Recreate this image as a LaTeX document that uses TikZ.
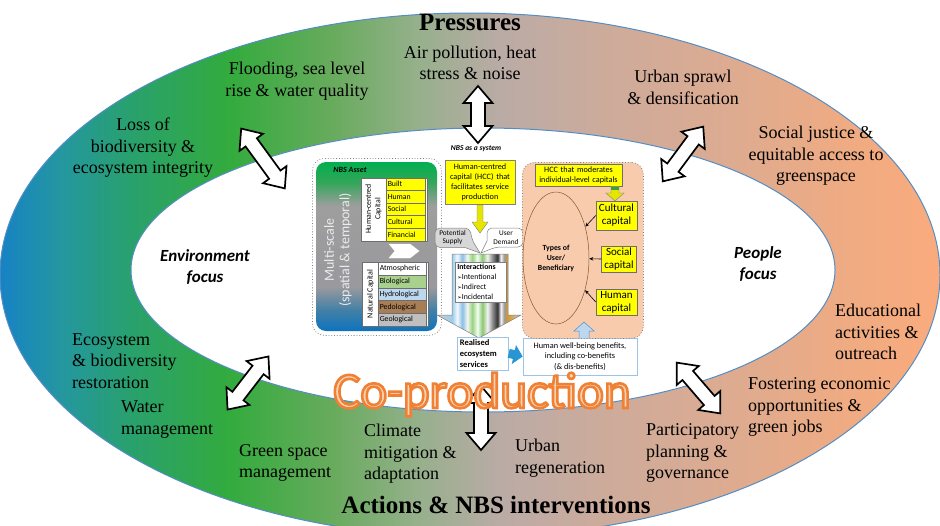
\documentclass[tikz,border=0pt]{standalone}
\usepackage{fontspec}
\setmainfont{Liberation Serif}
\newfontfamily\calibri{Carlito}
\newfontfamily\djv{DejaVu Sans}
\usetikzlibrary{calc,arrows.meta,shapes.geometric}

\definecolor{ringline}{RGB}{84,141,196}
\definecolor{hyellow}{RGB}{255,255,0}
\definecolor{boxgray}{RGB}{110,110,110}
\definecolor{salmon}{RGB}{248,203,173}
\definecolor{lblue}{RGB}{157,195,230}
\definecolor{paleblue}{RGB}{189,215,238}
\definecolor{arrblue}{RGB}{40,150,210}
\definecolor{biogreen}{RGB}{169,209,142}
\definecolor{pedobrown}{RGB}{168,126,86}
\definecolor{geogray}{RGB}{191,191,191}
\definecolor{colight}{RGB}{251,210,178}
\definecolor{calgray}{RGB}{215,215,215}

\pgfdeclarehorizontalshading{ringshade}{100bp}{
rgb(0bp)=(0.09,0.51,0.77);
rgb(25bp)=(0.09,0.51,0.77);
rgb(28.2bp)=(0.14,0.59,0.63);
rgb(31.9bp)=(0.16,0.63,0.43);
rgb(37.2bp)=(0.2,0.67,0.24);
rgb(42.5bp)=(0.40,0.67,0.36);
rgb(47.3bp)=(0.59,0.69,0.55);
rgb(51.6bp)=(0.73,0.67,0.65);
rgb(56.9bp)=(0.80,0.67,0.61);
rgb(63.3bp)=(0.86,0.67,0.57);
rgb(70.2bp)=(0.94,0.67,0.51);
rgb(75bp)=(0.98,0.67,0.49);
rgb(100bp)=(0.98,0.67,0.49)}

\pgfdeclarehorizontalshading{stripes}{100bp}{
rgb(0bp)=(0.8,0.8,0.8); rgb(25bp)=(0.8,0.8,0.8);
rgb(34bp)=(0.62,0.80,0.92); rgb(37bp)=(0.95,0.97,1);
rgb(40bp)=(0.55,0.75,0.90); rgb(43bp)=(0.95,0.97,0.95);
rgb(46bp)=(0.6,0.82,0.5); rgb(49bp)=(0.95,1,0.95);
rgb(52bp)=(0.55,0.78,0.45); rgb(55bp)=(0.95,0.95,0.95);
rgb(58bp)=(0.55,0.55,0.55); rgb(61bp)=(0.2,0.2,0.2);
rgb(63bp)=(0.95,0.95,0.95); rgb(65bp)=(0.6,0.6,0.6);
rgb(67bp)=(0.85,0.6,0.15); rgb(75bp)=(0.8,0.8,0.8);
rgb(100bp)=(0.8,0.8,0.8)}

\pgfdeclareverticalshading{asset}{100bp}{
rgb(0bp)=(0.05,0.45,0.75); rgb(25bp)=(0.05,0.45,0.75);
rgb(31bp)=(0.25,0.5,0.65); rgb(38bp)=(0.6,0.6,0.62);
rgb(62bp)=(0.62,0.62,0.62); rgb(69bp)=(0.2,0.65,0.35);
rgb(75bp)=(0.0,0.69,0.31); rgb(100bp)=(0.0,0.69,0.31)}

\newcommand\dblarr[4]{%
 \begin{scope}[shift={(#1,#2)},rotate=#3]
 \draw[dbl] ({-#4/2},0) -- ({-#4/2+17},14.5) -- ({-#4/2+17},7) -- ({#4/2-17},7)
   -- ({#4/2-17},14.5) -- ({#4/2},0) -- ({#4/2-17},-14.5) -- ({#4/2-17},-7)
   -- ({-#4/2+17},-7) -- ({-#4/2+17},-14.5) -- cycle;
 \end{scope}}

\tikzset{
 lbl/.style={font=\fontsize{18}{21.5}\selectfont, inner sep=0, align=center},
 lbll/.style={lbl, align=left, anchor=west},
 ttl/.style={font=\bfseries\fontsize{25}{28}\selectfont, inner sep=0},
 focus/.style={font=\calibri\bfseries\itshape\fontsize{17}{20.5}\selectfont, inner sep=0, align=center},
 tiny/.style={font=\calibri\fontsize{7.3}{8.5}\selectfont, inner sep=0, align=center},
 dbl/.style={draw=black, fill=white, line width=1.7pt, line join=miter},
 ybox/.style={draw=boxgray, fill=hyellow, line width=0.5pt, inner sep=1.5},
 capbox/.style={ybox, font=\calibri\fontsize{7.8}{8}\selectfont, minimum height=12.6, text width=36, inner sep=1.5, align=left, anchor=north west},
 natbox/.style={draw=boxgray, line width=0.5pt, font=\calibri\fontsize{7.8}{8}\selectfont, minimum height=12.8, text width=45, inner sep=1.5, align=left, anchor=north west},
 bigcap/.style={ybox, font=\calibri\fontsize{11}{13}\selectfont, align=center},
 coprod/.style={font=\calibri\fontsize{51}{51}\selectfont, inner sep=0},
}

\begin{document}
\begin{tikzpicture}[x=1pt,y=-1pt]
\useasboundingbox (0,0) rectangle (940,525);
\begin{scope}
\clip (0,0) rectangle (940,525);
% ring
\shade[shading=ringshade] (470,275) ellipse [x radius=470, y radius=262];
\fill[white] (483,270) ellipse [x radius=352, y radius=142];
\draw[ringline, line width=1pt] (470,275) ellipse [x radius=470, y radius=262];
\draw[ringline, line width=1pt] (483,270) ellipse [x radius=352, y radius=142];
\end{scope}

% titles
\node[ttl] (t_press) at (470,22) {Pressures};
\node[ttl] (t_act) at (496,505) {Actions \& NBS interventions};

% ring labels
\node[lbl] (t_air) at (470,63) {Air pollution, heat\\stress \& noise};
\node[lbl] (t_flood) at (297,81) {Flooding, sea level\\rise \& water quality};
\node[lbl] (t_sprawl) at (683,87.5) {Urban sprawl\\\& densification};
\node[lbl] (t_loss) at (143,148) {Loss of\\biodiversity \&\\ecosystem integrity};
\node[lbl] (t_social) at (816,156) {Social justice \&\\equitable access to\\greenspace};
\node[lbll] (t_edu) at (835,332) {Educational\\activities \&\\outreach};
\node[lbll] (t_fost) at (748,407) {Fostering economic\\opportunities \&\\green jobs};
\node[lbll] (t_part) at (646,453) {Participatory\\planning \&\\governance};
\node[lbll] (t_urb) at (515,458) {Urban\\regeneration};
\node[lbll] (t_clim) at (364,454) {Climate\\mitigation \&\\adaptation};
\node[lbll] (t_green) at (239,463) {Green space\\management};
\node[lbll] (t_water) at (121,419.5) {Water\\management};
\node[lbll] (t_eco) at (72,361) {Ecosystem\\\& biodiversity\\restoration};

\node[focus] (env) at (205,267) {Environment\\focus};
\node[focus] (ppl) at (758,264) {People\\focus};

% double arrows
\dblarr{478}{114.5}{90}{57}
\dblarr{481}{418}{90}{64}
\dblarr{263}{158.5}{-53.9}{74}
\dblarr{683}{154}{53.5}{68}
\dblarr{248}{383}{52.4}{67}
\dblarr{698.5}{388}{-49.3}{67}

% ===== central diagram =====
\node[font=\calibri\bfseries\itshape\fontsize{7.5}{8}\selectfont, inner sep=0] (nbssys) at (476,148.5) {NBS as a system};

% NBS asset panel
\node[draw=gray, dotted, line width=0.8pt, rounded corners=12, minimum width=129, minimum height=177, anchor=north west, inner sep=0] (asset) at (312,158) {};
\shade[shading=asset, rounded corners=10] (316,162) rectangle (437,331);
\node[font=\calibri\bfseries\itshape\fontsize{8}{9}\selectfont, inner sep=0] (assetlbl) at (350,169.5) {NBS Asset};
\node[font=\calibri\fontsize{14}{15.5}\selectfont, text=white!85!gray, rotate=90, align=center, inner sep=0] (multi) at (338,250) {Multi-scale\\(spatial \& temporal)};

% human-centred capital
\node[draw=boxgray, fill=white, line width=0.5pt, minimum width=66, minimum height=63, anchor=north west, inner sep=0] (hcbox) at (361,177.5) {};
\node[font=\calibri\fontsize{7.8}{9.5}\selectfont, rotate=90, align=center, inner sep=0] (hclbl) at (373.5,209) {Human-centred\\Capital};
\node[capbox] (built) at (386,177.5) {Built};
\node[capbox] (human) at (386,190.1) {Human};
\node[capbox] (social) at (386,202.7) {Social};
\node[capbox] (cultural) at (386,215.3) {Cultural};
\node[capbox] (financial) at (386,227.9) {Financial};

% white chevron arrow
\draw[white, fill=white] (389,244) -- (410,244) -- (419,251) -- (410,258) -- (389,258) -- (395,251) -- cycle;

% natural capital
\node[draw=boxgray, fill=white, line width=0.5pt, minimum width=66, minimum height=64, anchor=north west, inner sep=0] (ncbox) at (362,262) {};
\node[font=\calibri\fontsize{8}{9}\selectfont, rotate=90, inner sep=0] (nclbl) at (370.5,294) {Natural Capital};
\node[natbox, fill=white] (atm) at (378,262) {Atmospheric};
\node[natbox, fill=biogreen] (bio) at (378,274.8) {Biological};
\node[natbox, fill=paleblue] (hyd) at (378,287.6) {Hydrological};
\node[natbox, fill=pedobrown] (ped) at (378,300.4) {Pedological};
\node[natbox, fill=geogray] (geo) at (378,313.2) {Geological};

% HCC facilitates box
\node[ybox, draw=gray, minimum width=70, minimum height=44, text width=68, inner sep=1, align=center, font=\calibri\fontsize{8.2}{10}\selectfont] (hcc1) at (480,182) {Human-centred\\capital (HCC) that\\facilitates service\\production};
\draw[draw=gray, fill=hyellow!90!black, line width=0.4pt] (477,205) -- (483,205) -- (483,222) -- (488,222) -- (480,233) -- (472,222) -- (477,222) -- cycle;

% callouts
\draw[draw=gray, fill=calgray, line width=0.5pt, rounded corners=5] (435,228) -- (470,228) -- (472,240) [sharp corners] -- (480,253) -- (465,247.5) [rounded corners=5] -- (435,247.5) -- cycle;
\node[tiny] (psup) at (452.5,237.5) {Potential\\Supply};
\draw[draw=gray, fill=white, line width=0.5pt, rounded corners=5] (487,228) -- (523,228) -- (523,247) -- (496,247) [sharp corners] -- (481,253) -- (487,241) [rounded corners=5] -- cycle;
\node[tiny] (udem) at (506,237.5) {User\\Demand};

% big striped arrow
\shade[shading=stripes] (452,254) -- (508,254) -- (508,315) -- (521,315) -- (479,338) -- (437,315) -- (452,315) -- cycle;
\draw[gray, line width=0.5pt] (452,254) -- (508,254) -- (508,315) -- (521,315) -- (479,338) -- (437,315) -- (452,315) -- cycle;
\node[draw=gray, fill=white, line width=0.5pt, anchor=north west, text width=47, inner sep=2, align=left, font=\calibri\fontsize{7.8}{10}\selectfont] (inter) at (455,262) {\textbf{Interactions}\\{\djv\fontsize{5.5}{6}\selectfont ➢}Intentional\\{\djv\fontsize{5.5}{6}\selectfont ➢}Indirect\\{\djv\fontsize{5.5}{6}\selectfont ➢}Incidental};

% realised services
\node[draw=lblue, fill=white, line width=0.7pt, anchor=north west, text width=46, inner sep=2.5, align=left, font=\calibri\bfseries\fontsize{8.5}{11}\selectfont] (real) at (457,336.5) {Realised\\ecosystem\\services};

% human well-being
\node[draw=lblue, fill=white, line width=0.7pt, minimum width=114, minimum height=37, align=center, inner sep=0, font=\calibri\fontsize{8.3}{10.3}\selectfont] (hwb) at (580,356.5) {Human well-being benefits,\\including co-benefits\\(\& dis-benefits)};
\draw[arrblue, line width=9pt, -{Triangle[length=9pt 0, width=19pt 0]}] (real.east) -- (hwb.west);

% people panel
\node[draw=gray, dotted, line width=0.8pt, fill=salmon, rounded corners=12, minimum width=121, minimum height=176, anchor=north west, inner sep=0] (peo) at (522,162) {};
\draw[draw=ringline, fill=paleblue, line width=0.5pt] (579,338) -- (579,331) -- (574,331) -- (584,322) -- (594,331) -- (589,331) -- (589,338);
\node[ybox, minimum width=87, minimum height=22, text width=85, inner sep=1, align=center, font=\calibri\fontsize{8.2}{10}\selectfont] (hcc2) at (578.5,175) {HCC that moderates\\individual-level capitals};
\draw[draw=gray, fill=hyellow!90!black, line width=0.4pt] (611,186.5) -- (619,186.5) -- (619,193) -- (624,193) -- (615,201) -- (606,193) -- (611,193) -- cycle;
\fill[green!55!black!80] (611.3,186.7) rectangle (618.7,189.5);
\node[draw=brown!70!black, ellipse, line width=0.5pt, minimum width=66, minimum height=132, inner sep=0, align=center, font=\calibri\bfseries\fontsize{7.8}{10}\selectfont] (users) at (556,258) {Types of\\User/\\Beneficiary};
\node[bigcap, minimum width=41, minimum height=29] (cultcap) at (616.5,215.5) {Cultural\\capital};
\node[bigcap, minimum width=35, minimum height=26] (soccap) at (619,259) {Social\\capital};
\node[bigcap, minimum width=41, minimum height=26] (humcap) at (616.5,302) {Human\\capital};
\draw[-{Stealth[length=4pt,width=3.5pt]}, line width=0.6pt] (cultcap.west) -- (users);
\draw[-{Stealth[length=4pt,width=3.5pt]}, line width=0.6pt] (soccap.west) -- (users);
\draw[-{Stealth[length=4pt,width=3.5pt]}, line width=0.6pt] (humcap.west) -- (users);

% Co-production (filled and outlined text)
\node[coprod, text=colight, anchor=base] (co) at (482,408) {\special{pdf:literal direct 2 Tr 2.6 w 0.94 0.5 0.2 RG}Co-production\special{pdf:literal direct 0 Tr}};
\end{tikzpicture}
\end{document}
